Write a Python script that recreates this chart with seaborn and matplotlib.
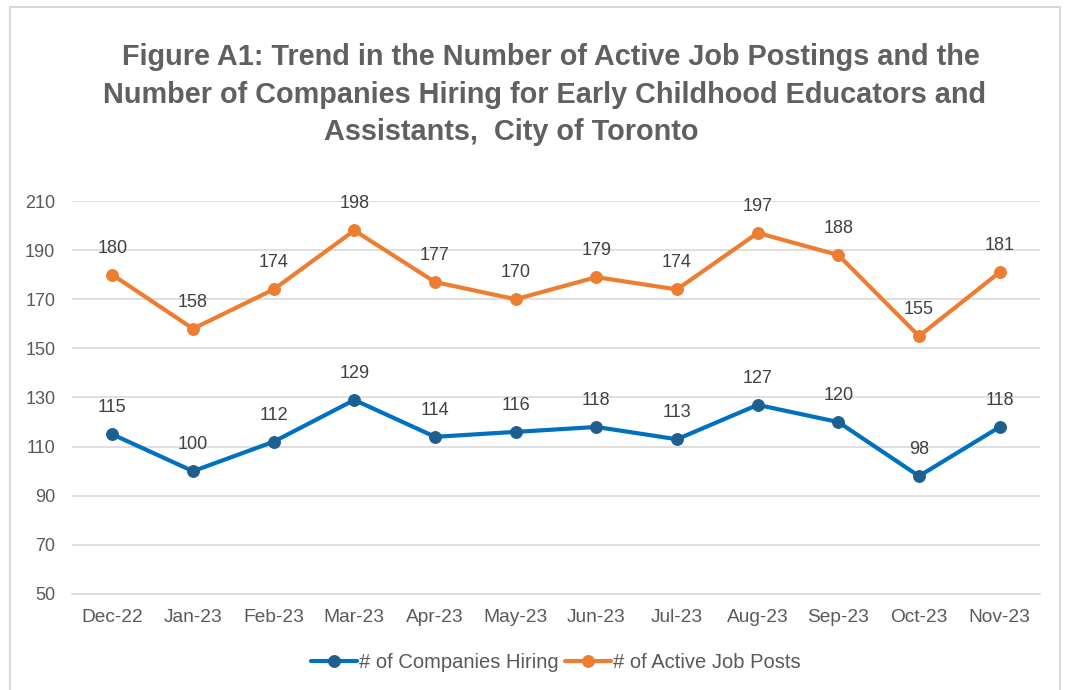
import matplotlib
matplotlib.use('Agg')
import matplotlib.pyplot as plt
import matplotlib.patches as patches
import numpy as np
import pandas as pd
import seaborn as sb

months = ['Dec-22', 'Jan-23', 'Feb-23', 'Mar-23', 'Apr-23', 'May-23',
          'Jun-23', 'Jul-23', 'Aug-23', 'Sep-23', 'Oct-23', 'Nov-23']
companies_hiring = [115, 100, 112, 129, 114, 116, 118, 113, 127, 120, 98, 118]
active_posts = [180, 158, 174, 198, 177, 170, 179, 174, 197, 188, 155, 181]
y_ticks = [50, 70, 90, 110, 130, 150, 170, 190, 210]
title_lines = ['Figure A1: Trend in the Number of Active Job Postings and the',
               'Number of Companies Hiring for Early Childhood Educators and',
               'Assistants,  City of Toronto']

sb.set_style('white')
plt.rcParams['font.family'] = ['Liberation Sans', 'DejaVu Sans']

txt_gray = '#595959'
blue = '#0070C0'
orange = '#ED7D31'

df = pd.DataFrame({'pos': np.arange(len(months)),
                   'hiring': companies_hiring,
                   'posts': active_posts})

fig = plt.figure(figsize=(10.68, 6.9), dpi=100)
# plot area: x 72..1040 px, y 201..594 px
ax = fig.add_axes([72 / 1068, 1 - 594 / 690, 968 / 1068, 393 / 690])

sb.lineplot(data=df, x='pos', y='hiring', ax=ax, color=blue, linewidth=3.0,
            marker='o', markersize=8.5, markerfacecolor='#1F5F8F',
            markeredgecolor='#1F5F8F', label='# of Companies Hiring')
sb.lineplot(data=df, x='pos', y='posts', ax=ax, color=orange, linewidth=3.0,
            marker='o', markersize=8.5, markerfacecolor=orange,
            markeredgecolor=orange, label='# of Active Job Posts')

# data labels
for i in range(len(months)):
    ax.annotate(str(companies_hiring[i]), (i, companies_hiring[i]),
                xytext=(0, 13), textcoords='offset points', ha='center',
                va='bottom', fontsize=13, color='#404040')
    ax.annotate(str(active_posts[i]), (i, active_posts[i]),
                xytext=(0, 13), textcoords='offset points', ha='center',
                va='bottom', fontsize=13, color='#404040')

ax.set_xlim(-0.5, len(months) - 0.5)
ax.set_ylim(50, 210)
ax.set_yticks(y_ticks)
ax.set_yticklabels([str(v) for v in y_ticks], fontsize=13, color=txt_gray)
ax.set_xticks(np.arange(len(months)))
ax.set_xticklabels(months, fontsize=13.8, color=txt_gray)
ax.set_xticks(np.arange(-0.5, len(months)), minor=True)
ax.tick_params(axis='x', which='major', length=0, pad=11)
ax.tick_params(axis='x', which='minor', length=4, color='#D9D9D9', width=1.2)
ax.tick_params(axis='y', length=0, pad=12)
ax.grid(axis='y', color='#D9D9D9', linewidth=1.2)
ax.set_axisbelow(True)
for s in ['top', 'right', 'left']:
    ax.spines[s].set_visible(False)
ax.spines['bottom'].set_color('#D9D9D9')
ax.spines['bottom'].set_linewidth(1.2)
ax.set_xlabel('')
ax.set_ylabel('')

leg = ax.legend(loc='center', bbox_to_anchor=(0.5, -0.175), ncol=2,
                frameon=False, fontsize=14.5, handlelength=2.3,
                handletextpad=0.1, columnspacing=0.3)
for t in leg.get_texts():
    t.set_color(txt_gray)

# title, one text per line (lines are not centred on the same x in the original)
title_x = [551, 545, 511]
title_base = [65, 103, 140]
for line, tx, ty in zip(title_lines, title_x, title_base):
    fig.text(tx / 1068, 1 - ty / 690, line, ha='center', va='baseline',
             fontsize=20.8, fontweight='bold', color='#606060')

fig.patches.append(patches.Rectangle((10 / 1068, -0.01), 1050 / 1068, 1.0 - 7 / 690 + 0.01,
                                     transform=fig.transFigure, fill=False,
                                     edgecolor='#D9D9D9', linewidth=1.5))

fig.savefig('out.png', dpi=100)
